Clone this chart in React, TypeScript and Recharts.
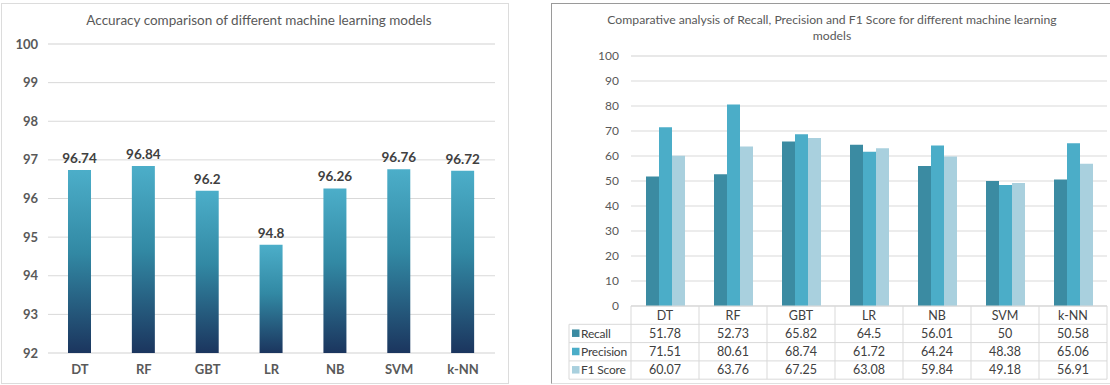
import React from 'react';
import { BarChart, Bar, XAxis, YAxis, CartesianGrid, LabelList } from 'recharts';

const categories = ['DT', 'RF', 'GBT', 'LR', 'NB', 'SVM', 'k-NN'];
const accuracy = [96.74, 96.84, 96.2, 94.8, 96.26, 96.76, 96.72];
const recall = [51.78, 52.73, 65.82, 64.5, 56.01, 50, 50.58];
const precision = [71.51, 80.61, 68.74, 61.72, 64.24, 48.38, 65.06];
const f1Score = [60.07, 63.76, 67.25, 63.08, 59.84, 49.18, 56.91];

const accTicks = [92, 93, 94, 95, 96, 97, 98, 99, 100];
const metricTicks = [0, 10, 20, 30, 40, 50, 60, 70, 80, 90, 100];

const seriesNames = ['Recall', 'Precision', 'F1 Score'];
const seriesKeys = ['recall', 'precision', 'f1'];
const seriesColors = ['#3b8ba2', '#4badc8', '#a9d0de'];

const FONT = 'Lato, "Open Sans", sans-serif';

const accData = categories.map((c, i) => ({ name: c, acc: accuracy[i] }));
const metricData = categories.map((c, i) => ({
  name: c,
  recall: recall[i],
  precision: precision[i],
  f1: f1Score[i],
}));

const minorStep = (lo: number, hi: number, step: number) => {
  const out: number[] = [];
  for (let v = lo; v <= hi + 1e-9; v += step) out.push(Math.round(v * 100) / 100);
  return out;
};
const accMinor = minorStep(92, 100, 0.2);
const metricMinor = minorStep(0, 100, 2);

// right chart layout
const R_W = 558;
const R_H = 379;
const R_MARGIN = { top: 52, right: 3, left: 0, bottom: 0 };
const R_YW = 79;
const R_PLOT_W = R_W - R_MARGIN.right - R_MARGIN.left - R_YW;
const BAND = R_PLOT_W / categories.length;
const ROW_H = 18.3;
const LEGEND_W = 62;
const TABLE_LINE = '#d9d9d9';

const TableTick = (props: any) => {
  const { x, y, payload, index } = props;
  const left = x - BAND / 2;
  const right = x + BAND / 2;
  const i = index as number;
  const row = metricData[i];
  const tableH = ROW_H * 4;
  return (
    <g>
      <line x1={right} x2={right} y1={y} y2={y + tableH} stroke={TABLE_LINE} />
      {i === 0 && (
        <g>
          <line x1={left} x2={left} y1={y} y2={y + tableH} stroke={TABLE_LINE} />
          <line x1={left - LEGEND_W} x2={left - LEGEND_W} y1={y + ROW_H} y2={y + tableH} stroke={TABLE_LINE} />
          {[1, 2, 3, 4].map((r) => (
            <line
              key={r}
              x1={left - LEGEND_W}
              x2={left + BAND * categories.length}
              y1={y + ROW_H * r}
              y2={y + ROW_H * r}
              stroke={TABLE_LINE}
            />
          ))}
          {seriesNames.map((s, k) => (
            <g key={s}>
              <rect
                x={left - LEGEND_W + 3}
                y={y + ROW_H * (k + 1) + ROW_H / 2 - 4}
                width={7.5}
                height={7.5}
                fill={seriesColors[k]}
              />
              <text
                x={left - LEGEND_W + 12}
                y={y + ROW_H * (k + 1) + ROW_H / 2}
                dy="0.35em"
                fontSize={12}
                letterSpacing={-0.2}
                fill="#404040"
                fontFamily={FONT}
              >
                {s}
              </text>
            </g>
          ))}
        </g>
      )}
      <text x={x} y={y + ROW_H / 2} dy="0.35em" textAnchor="middle" fontSize={12.5} fill="#404040" fontFamily={FONT}>
        {payload.value}
      </text>
      {seriesKeys.map((k, r) => (
        <text
          key={k}
          x={x}
          y={y + ROW_H * (r + 1) + ROW_H / 2}
          dy="0.35em"
          textAnchor="middle"
          fontSize={12.5}
          fill="#404040"
          fontFamily={FONT}
        >
          {(row as any)[k]}
        </text>
      ))}
    </g>
  );
};

export default function App() {
  return (
    <div style={{ position: 'absolute', left: 0, top: 0, width: 1110, height: 385, background: '#fff', overflow: 'hidden', fontFamily: FONT }}>
      {/* Left panel */}
      <div
        style={{
          position: 'absolute',
          left: 1,
          top: 3,
          width: 508,
          height: 381,
          boxSizing: 'border-box',
          border: '1px solid #dcdcdc',
        }}
      >
        <div style={{ position: 'absolute', left: 0, top: 0 }}>
          <BarChart width={506} height={379} data={accData} margin={{ top: 40, right: 13, left: 0, bottom: 0 }}>
            <defs>
              <linearGradient id="accGrad" x1="0" y1="0" x2="0" y2="1">
                <stop offset="0%" stopColor="#4caec9" />
                <stop offset="45%" stopColor="#3289a4" />
                <stop offset="100%" stopColor="#1b355e" />
              </linearGradient>
            </defs>
            <YAxis yAxisId="minor" hide domain={[92, 100]} ticks={accMinor} interval={0} type="number" />
            <CartesianGrid yAxisId="minor" vertical={false} stroke="#f0f0f0" />
            <CartesianGrid vertical={false} stroke="#d9d9d9" />
            <XAxis
              dataKey="name"
              height={30}
              axisLine={false}
              tickLine={false}
              tickSize={0}
              tickMargin={12}
              tick={{ fontSize: 13, fontWeight: 'bold', fill: '#595959', fontFamily: FONT }}
            />
            <YAxis
              width={46}
              domain={[92, 100]}
              ticks={accTicks}
              interval={0}
              type="number"
              axisLine={false}
              tickLine={false}
              tickSize={0}
              tickMargin={10}
              tick={{ fontSize: 13, fontWeight: 'bold', fill: '#595959', fontFamily: FONT }}
            />
            <Bar dataKey="acc" fill="url(#accGrad)" barSize={23} isAnimationActive={false}>
              <LabelList
                dataKey="acc"
                position="top"
                offset={7}
                style={{ fontSize: 13.5, fontWeight: 'bold', fill: '#404040', fontFamily: FONT }}
              />
            </Bar>
          </BarChart>
        </div>
        <div
          style={{
            position: 'absolute',
            left: 0,
            top: 8,
            width: 514,
            textAlign: 'center',
            fontSize: 13.5,
            lineHeight: '16px',
            color: '#595959',
          }}
        >
          Accuracy comparison of different machine learning models
        </div>
      </div>

      {/* Right panel */}
      <div
        style={{
          position: 'absolute',
          left: 551,
          top: 3,
          width: 570,
          height: 381,
          boxSizing: 'border-box',
          border: '1px solid #9a9a9a',
          borderBottom: '1px solid #e0e0e0',
        }}
      >
        <div style={{ position: 'absolute', left: 0, top: 0 }}>
          <BarChart
            width={R_W}
            height={R_H}
            data={metricData}
            margin={R_MARGIN}
            barGap={0}
          >
            <YAxis yAxisId="minor" hide domain={[0, 100]} ticks={metricMinor} interval={0} type="number" />
            <CartesianGrid yAxisId="minor" vertical={false} stroke="#f0f0f0" />
            <CartesianGrid vertical={false} stroke="#d9d9d9" />
            <XAxis
              dataKey="name"
              height={77}
              axisLine={{ stroke: TABLE_LINE }}
              tickLine={false}
              tickSize={0}
              tickMargin={0}
              interval={0}
              tick={<TableTick />}
            />
            <YAxis
              width={R_YW}
              domain={[0, 100]}
              ticks={metricTicks}
              interval={0}
              type="number"
              axisLine={false}
              tickLine={false}
              tickSize={0}
              tickMargin={12}
              tick={{ fontSize: 12, fill: '#595959', fontFamily: FONT }}
            />
            {seriesKeys.map((k, i) => (
              <Bar key={k} dataKey={k} name={seriesNames[i]} fill={seriesColors[i]} barSize={13} isAnimationActive={false} />
            ))}
          </BarChart>
        </div>
        <div
          style={{
            position: 'absolute',
            left: 0,
            top: 8,
            width: 560,
            textAlign: 'center',
            fontSize: 12.2,
            lineHeight: '16px',
            color: '#595959',
          }}
        >
          Comparative analysis of Recall, Precision and F1 Score for different machine learning
          <br />
          models
        </div>
      </div>
    </div>
  );
}
